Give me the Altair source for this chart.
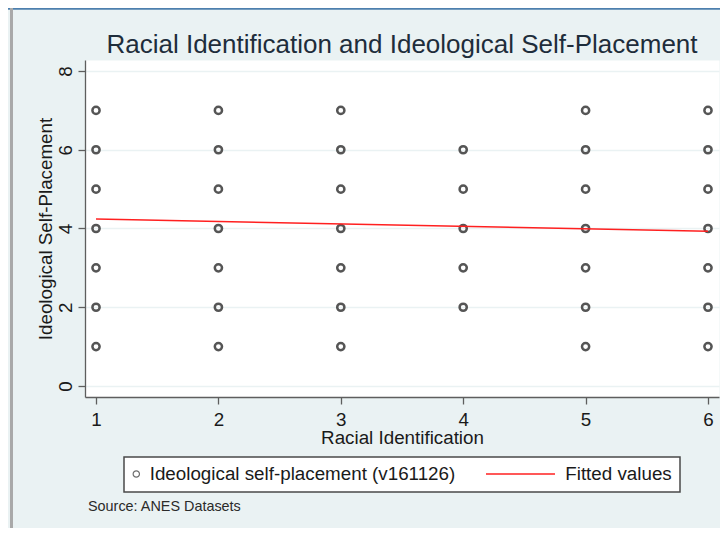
import altair as alt
import pandas as pd

# ---------------- data ----------------
race_values = [1, 2, 3, 4, 5, 6]
ideology_r1 = [1, 2, 3, 4, 5, 6, 7]
ideology_r2 = [1, 2, 3, 4, 5, 6, 7]
ideology_r3 = [1, 2, 3, 4, 5, 6, 7]
ideology_r4 = [2, 3, 4, 5, 6]
ideology_r5 = [1, 2, 3, 4, 5, 6, 7]
ideology_r6 = [1, 2, 3, 4, 5, 6, 7]

fit_x = [1, 6]
fit_y = [4.24, 3.93]

y_ticks = [0, 2, 4, 6, 8]

scatter_name = "Ideological self-placement (v161126)"
fit_name = "Fitted values"
title_text = "Racial Identification and Ideological Self-Placement"
x_title = "Racial Identification"
y_title = "Ideological Self-Placement"
source_note = "Source: ANES Datasets"

# ---------------- tables ----------------
rows = []
for r, vals in zip(race_values, [ideology_r1, ideology_r2, ideology_r3,
                                 ideology_r4, ideology_r5, ideology_r6]):
    for v in vals:
        rows.append({"race": r, "ideo": v, "series": scatter_name})
pts = pd.DataFrame(rows)
fit = pd.DataFrame({"race": fit_x, "ideo": fit_y, "fit_series": [fit_name] * len(fit_x)})
note = pd.DataFrame({"note": [source_note]})
one = pd.DataFrame({"k": [0]})

FONT = "Liberation Sans, Arial, sans-serif"
TXT = "#1a1a1a"
AXC = "#5e5e5e"
BG = "#eaf2f3"
FS = 18.8

W, H = 634, 337

xscale = alt.Scale(domain=[0.91, 6.09], nice=False, zero=False)
yscale = alt.Scale(domain=[-0.28, 8.28], nice=False, zero=False)

xaxis = alt.Axis(values=race_values, format="d", title=x_title, grid=False,
                 tickSize=7, labelPadding=6.5, labelBaseline="top", labelAngle=0,
                 labelFlush=False, labelFontSize=FS, titleFontSize=FS,
                 titleX=W / 2, titleY=46, titleBaseline="alphabetic",
                 titleAlign="center")
yaxis = alt.Axis(values=y_ticks, format="d", title=y_title, grid=True,
                 gridColor=BG, gridWidth=1.5, tickSize=7, labelAngle=270,
                 labelAlign="center", labelBaseline="alphabetic", labelPadding=7,
                 labelFlush=False, labelFontSize=FS, titleFontSize=FS,
                 titleAngle=270, titleX=-34, titleY=H / 2,
                 titleBaseline="alphabetic", titleAlign="center")

# decorations of the graph window (frame lines) and legend box
top_line = alt.Chart(one).mark_rule(color="#4d7fae", strokeWidth=2).encode(
    x=alt.value(-77), x2=alt.value(635), y=alt.value(-51.25))
left_bar = alt.Chart(one).mark_rule(color="#a9a9a9", strokeWidth=3).encode(
    x=alt.value(-73.5), y=alt.value(-52), y2=alt.value(468))
legend_box = alt.Chart(one).mark_rect(fill="white", stroke="#4a4a4a", strokeWidth=1.5).encode(
    x=alt.value(39), x2=alt.value(595), y=alt.value(397), y2=alt.value(432))

points = alt.Chart(pts).mark_point(
    shape="circle", filled=False, size=52, strokeWidth=2.5, color="#555555", opacity=1
).encode(
    x=alt.X("race:Q", scale=xscale, axis=xaxis),
    y=alt.Y("ideo:Q", scale=yscale, axis=yaxis),
    shape=alt.Shape("series:N",
                    scale=alt.Scale(domain=[scatter_name], range=["circle"]),
                    legend=alt.Legend(title=None, orient="none", legendX=41.9, legendY=404,
                                      padding=0, clipHeight=20, symbolSize=40,
                                      symbolStrokeWidth=1.2,
                                      symbolStrokeColor="#6e6e6e", symbolFillColor="white",
                                      labelOffset=4, labelFontSize=FS, labelFont=FONT,
                                      labelColor=TXT, labelLimit=500)),
)

line = alt.Chart(fit).mark_line(strokeWidth=1.6).encode(
    x=alt.X("race:Q", scale=xscale, axis=xaxis),
    y=alt.Y("ideo:Q", scale=yscale, axis=yaxis),
    color=alt.Color("fit_series:N",
                    scale=alt.Scale(domain=[fit_name], range=["#ff2020"]),
                    legend=alt.Legend(title=None, orient="none", legendX=400, legendY=404,
                                      padding=0, clipHeight=20, symbolType="stroke",
                                      symbolSize=4761,
                                      symbolStrokeWidth=1.6, labelOffset=9.25,
                                      labelFontSize=FS, labelFont=FONT, labelColor=TXT,
                                      labelLimit=500)),
)

note_text = alt.Chart(note).mark_text(
    align="left", baseline="middle", fontSize=14.4, font=FONT, color="#2a2a2a"
).encode(x=alt.value(3), y=alt.value(447), text="note:N")

chart = alt.layer(top_line, left_bar, legend_box, points, line, note_text).properties(
    width=W, height=H,
    padding={"left": 77, "top": 52, "right": 1, "bottom": 131},
    autosize=alt.AutoSizeParams(type="none"),
    background=BG,
    title=alt.TitleParams(text=title_text, fontSize=26, font=FONT, fontWeight="normal",
                          color="#1e2d3b", anchor="middle", frame="group", offset=0,
                          dy=72, baseline="alphabetic"),
).resolve_scale(color="independent", shape="independent").configure_view(
    fill="white", stroke="transparent"
).configure_axis(
    domainColor=AXC, domainWidth=1.3, tickColor=AXC, tickWidth=1.3,
    labelFont=FONT, titleFont=FONT, labelColor=TXT, titleColor=TXT,
    titleFontWeight="normal"
)

chart.save("out.html", embed_options={"renderer": "svg", "actions": False})
